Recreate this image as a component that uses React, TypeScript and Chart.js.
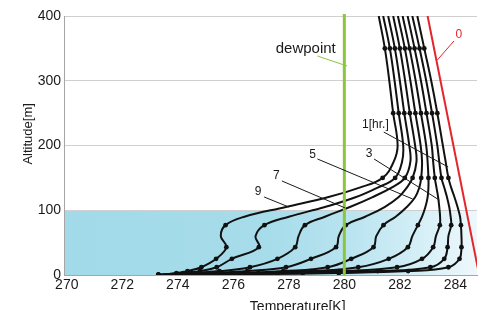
import React, { useEffect, useRef } from "react";
import { Chart, registerables } from "chart.js";

Chart.register(...registerables);

const FONT = "'Liberation Sans', Arial, sans-serif";

// Tick labels
const xTicks = [270, 272, 274, 276, 278, 280, 282, 284];
const yTicks = [0, 100, 200, 300, 400];

// Altitudes [m] of each profile sample (bottom to top)
const altitudes = [0, 1.5, 3, 6, 12, 25, 43, 60, 77, 90, 105, 120, 135, 150, 175, 200, 250, 300, 350, 400];
// Altitudes that carry a marker dot
const dotAltitudes = [0, 3, 6, 12, 25, 43, 77, 150, 250, 350];

// Temperature profiles [K] after 1..9 hours
const hour1 = [273.3, 276.8, 279.8, 282.3, 283.75, 284.15, 284.22, 284.22, 284.2, 284.17, 284.08, 283.97, 283.85, 283.75, 283.65, 283.55, 283.35, 283.13, 282.88, 282.63];
const hour2 = [273.3, 276.0, 278.5, 281.2, 283.1, 283.6, 283.72, 283.75, 283.85, 283.83, 283.78, 283.7, 283.6, 283.5, 283.42, 283.35, 283.16, 282.95, 282.71, 282.45];
const hour3 = [273.3, 275.6, 277.6, 279.8, 281.9, 282.8, 283.2, 283.3, 283.44, 283.45, 283.42, 283.38, 283.32, 283.26, 283.2, 283.15, 282.96, 282.76, 282.53, 282.28];
const hour4 = [273.3, 275.2, 276.9, 278.8, 280.5, 281.6, 282.29, 282.45, 282.65, 282.8, 282.92, 283.0, 283.03, 283.03, 283.0, 282.95, 282.76, 282.57, 282.35, 282.1];
const hour5 = [273.3, 274.8, 276.2, 277.8, 279.4, 280.25, 281.05, 281.15, 281.41, 281.85, 282.25, 282.55, 282.7, 282.77, 282.8, 282.75, 282.56, 282.38, 282.18, 281.93];
const hour6 = [273.3, 274.2, 275.2, 276.5, 277.9, 278.8, 279.7, 279.8, 280.05, 280.75, 281.45, 281.95, 282.25, 282.46, 282.6, 282.55, 282.36, 282.19, 282.0, 281.76];
const hour7 = [273.3, 273.9, 274.5, 275.5, 276.6, 277.59, 278.23, 278.35, 278.58, 279.3, 280.2, 281.0, 281.7, 282.18, 282.38, 282.34, 282.16, 282.0, 281.82, 281.58];
const hour8 = [273.3, 273.8, 274.2, 274.8, 275.4, 275.95, 276.92, 276.8, 277.12, 278.0, 279.3, 280.4, 281.2, 281.83, 282.08, 282.12, 281.96, 281.81, 281.64, 281.4];
const hour9 = [273.3, 273.65, 273.95, 274.35, 274.85, 275.38, 275.75, 275.55, 275.72, 276.4, 277.9, 279.4, 280.55, 281.38, 281.78, 281.92, 281.76, 281.62, 281.46, 281.24];
const hourProfiles = [hour1, hour2, hour3, hour4, hour5, hour6, hour7, hour8, hour9];

// Initial profile (hour 0)
const initialTemps = [283.0, 284.86];
const initialAlts = [400, 0];

// Dewpoint
const dewpointTemp = 280.0;
const dewpointAlts = [0, 403];

// Cool layer shading
const coolLayerTop = 100;

// Labels with leader lines
const labelTexts = ["dewpoint", "0", "1[hr.]", "3", "5", "7", "9"];
const labelT = [278.61, 284.13, 281.12, 280.89, 278.86, 277.55, 276.89];
const labelAlt = [349.0, 370.7, 231.7, 186.9, 185.3, 152.9, 128.2];
const leaderFromT = [279.03, 283.95, 281.42, 281.07, 279.03, 277.75, 277.11];
const leaderFromAlt = [338.2, 361.4, 220.8, 179.2, 179.2, 145.2, 120.5];
const leaderToT = [280.1, 283.35, 283.74, 283.42, 282.46, 280.03, 278.0];
const leaderToAlt = [322.8, 332.0, 166.8, 115.8, 117.4, 103.5, 105.0];
const labelColors = ["#1a1a1a", "#e3262b", "#1a1a1a", "#1a1a1a", "#1a1a1a", "#1a1a1a", "#1a1a1a"];
const leaderColors = ["#8cc63f", "#e3262b", "#1a1a1a", "#1a1a1a", "#1a1a1a", "#1a1a1a", "#1a1a1a"];
const labelSizes = [15, 12, 12, 12, 12, 12, 12];

export default function App() {
  const ref = useRef<HTMLCanvasElement>(null);

  useEffect(() => {
    const canvas = ref.current;
    if (!canvas) return;

    const blueLayer = {
      id: "blueLayer",
      beforeDraw(chart: any) {
        const { ctx, chartArea, scales } = chart;
        const yTop = scales.y.getPixelForValue(coolLayerTop);
        const yBot = scales.y.getPixelForValue(0);
        const g = ctx.createLinearGradient(chartArea.left, 0, chartArea.right, 0);
        g.addColorStop(0, "rgb(162,218,233)");
        g.addColorStop(0.5, "rgb(167,220,234)");
        g.addColorStop(0.7, "rgb(186,228,240)");
        g.addColorStop(0.85, "rgb(211,238,246)");
        g.addColorStop(1, "rgb(238,248,252)");
        ctx.save();
        ctx.fillStyle = g;
        ctx.fillRect(chartArea.left, yTop, chartArea.right - chartArea.left, yBot - yTop);
        ctx.restore();
      },
    };

    const annotations = {
      id: "annotations",
      afterDatasetsDraw(chart: any) {
        const { ctx, scales, chartArea } = chart;
        const xs = scales.x;
        const ys = scales.y;
        ctx.save();
        for (let i = 0; i < labelTexts.length; i++) {
          ctx.strokeStyle = leaderColors[i];
          ctx.lineWidth = 1;
          ctx.beginPath();
          ctx.moveTo(xs.getPixelForValue(leaderFromT[i]), ys.getPixelForValue(leaderFromAlt[i]));
          ctx.lineTo(xs.getPixelForValue(leaderToT[i]), ys.getPixelForValue(leaderToAlt[i]));
          ctx.stroke();
          ctx.fillStyle = labelColors[i];
          ctx.font = `${labelSizes[i]}px ${FONT}`;
          ctx.textAlign = "center";
          ctx.textBaseline = "middle";
          ctx.fillText(labelTexts[i], xs.getPixelForValue(labelT[i]), ys.getPixelForValue(labelAlt[i]));
        }
        ctx.fillStyle = "#1a1a1a";
        ctx.font = `14px ${FONT}`;
        ctx.textAlign = "center";
        ctx.textBaseline = "middle";
        ctx.fillText("Temperature[K]", xs.getPixelForValue(278.32), chartArea.bottom + 32);
        ctx.save();
        ctx.translate(chartArea.left - 36, ys.getPixelForValue(218));
        ctx.rotate(-Math.PI / 2);
        ctx.font = `13px ${FONT}`;
        ctx.fillText("Altitude[m]", 0, 0);
        ctx.restore();
        ctx.restore();
      },
    };

    const profileSets = hourProfiles.map((temps, i) => ({
      label: `${i + 1}`,
      data: altitudes.map((a, j) => ({ x: temps[j], y: a })),
      showLine: true,
      borderColor: "#111111",
      borderWidth: 2,
      tension: 0.4,
      pointRadius: altitudes.map((a) => (dotAltitudes.includes(a) ? 2.4 : 0)),
      pointBackgroundColor: "#111111",
      pointBorderWidth: 0,
    }));

    const chart = new Chart(canvas, {
      type: "scatter",
      data: {
        datasets: [
          {
            label: "dewpoint",
            data: dewpointAlts.map((a) => ({ x: dewpointTemp, y: a })),
            showLine: true,
            borderColor: "#8cc63f",
            borderWidth: 3,
            pointRadius: 0,
            clip: false,
          } as any,
          {
            label: "0",
            data: initialAlts.map((a, j) => ({ x: initialTemps[j], y: a })),
            showLine: true,
            borderColor: "#e3262b",
            borderWidth: 2,
            pointRadius: 0,
          },
          ...profileSets,
        ],
      },
      options: {
        animation: false,
        responsive: false,
        maintainAspectRatio: false,
        layout: { padding: { top: 16, left: 0, right: 0, bottom: 0 } },
        plugins: { legend: { display: false }, tooltip: { enabled: false } },
        scales: {
          x: {
            type: "linear",
            min: 269.9,
            max: 284.78,
            afterFit: (s: any) => {
              s.height = 35;
            },
            afterBuildTicks: (s: any) => {
              s.ticks = xTicks.map((v) => ({ value: v }));
            },
            grid: { display: false, drawTicks: false },
            border: { display: true, color: "#a6a6a6", width: 1 },
            ticks: {
              padding: 2,
              color: "#1a1a1a",
              font: { family: FONT, size: 14 },
              maxRotation: 0,
              autoSkip: false,
            },
          },
          y: {
            type: "linear",
            min: 0,
            max: 400,
            afterFit: (s: any) => {
              s.width = 64;
            },
            afterBuildTicks: (s: any) => {
              s.ticks = yTicks.map((v) => ({ value: v }));
            },
            grid: { color: "#cfcfcf", drawTicks: false, lineWidth: 1 },
            border: { display: true, color: "#a6a6a6", width: 1 },
            ticks: {
              padding: 3,
              color: "#1a1a1a",
              font: { family: FONT, size: 14 },
            },
          },
        },
      } as any,
      plugins: [blueLayer, annotations],
    });

    return () => chart.destroy();
  }, []);

  return (
    <div style={{ position: "fixed", left: 0, top: 0, width: 481, height: 310, background: "#fff" }}>
      <canvas ref={ref} width={481} height={310} style={{ width: 481, height: 310, display: "block" }} />
    </div>
  );
}
